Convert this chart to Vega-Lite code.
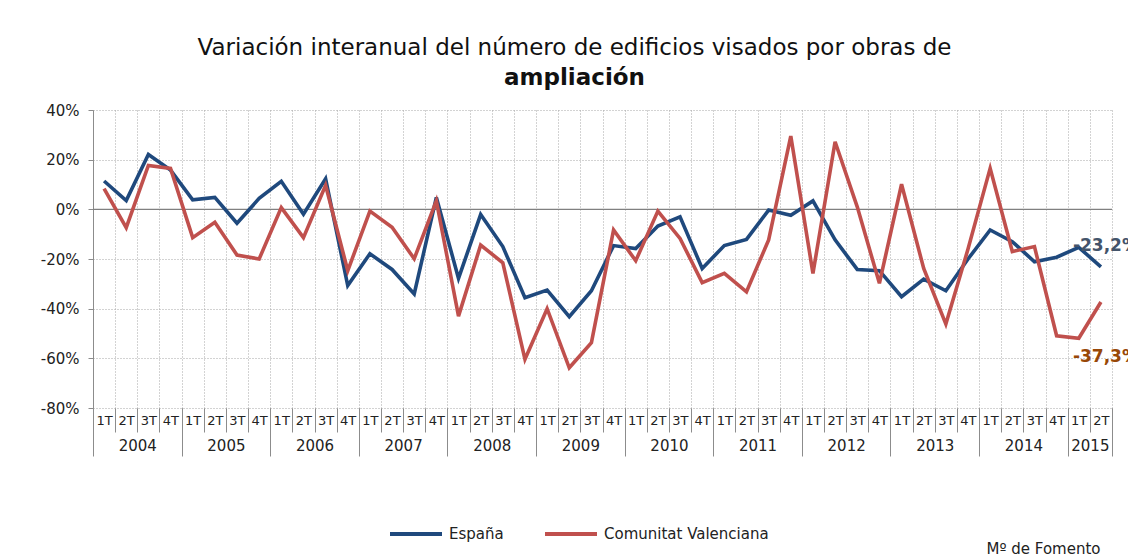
{
  "$schema": "https://vega.github.io/schema/vega-lite/v6.json",
  "autosize": {"type": "none"},
  "width": 1019,
  "height": 298,
  "padding": {"left": 93, "top": 110, "right": 16, "bottom": 150},
  "background": "white",
  "config": {
    "font": "DejaVu Sans",
    "view": {"stroke": null}
  },
  "title": {
    "text": "Variación interanual del número de edificios visados por obras de",
    "subtitle": "ampliación",
    "anchor": "middle",
    "frame": "group",
    "dx": -28,
    "offset": 13,
    "font": "DejaVu Sans",
    "fontSize": 23,
    "fontWeight": "normal",
    "color": "#111111",
    "subtitleFont": "DejaVu Sans",
    "subtitleFontSize": 23,
    "subtitleFontWeight": "bold",
    "subtitleColor": "#111111",
    "subtitlePadding": 7
  },
  "datasets": {
    "series": [
      {"t": 0, "periodo": "2004 1T", "serie": "España", "v": 11.4},
      {"t": 1, "periodo": "2004 2T", "serie": "España", "v": 3.5},
      {"t": 2, "periodo": "2004 3T", "serie": "España", "v": 22.1},
      {"t": 3, "periodo": "2004 4T", "serie": "España", "v": 15.8},
      {"t": 4, "periodo": "2005 1T", "serie": "España", "v": 3.8},
      {"t": 5, "periodo": "2005 2T", "serie": "España", "v": 4.8},
      {"t": 6, "periodo": "2005 3T", "serie": "España", "v": -5.6},
      {"t": 7, "periodo": "2005 4T", "serie": "España", "v": 4.4},
      {"t": 8, "periodo": "2006 1T", "serie": "España", "v": 11.3},
      {"t": 9, "periodo": "2006 2T", "serie": "España", "v": -2.0},
      {"t": 10, "periodo": "2006 3T", "serie": "España", "v": 12.3},
      {"t": 11, "periodo": "2006 4T", "serie": "España", "v": -30.7},
      {"t": 12, "periodo": "2007 1T", "serie": "España", "v": -17.9},
      {"t": 13, "periodo": "2007 2T", "serie": "España", "v": -24.2},
      {"t": 14, "periodo": "2007 3T", "serie": "España", "v": -34.1},
      {"t": 15, "periodo": "2007 4T", "serie": "España", "v": 4.8},
      {"t": 16, "periodo": "2008 1T", "serie": "España", "v": -27.8},
      {"t": 17, "periodo": "2008 2T", "serie": "España", "v": -2.1},
      {"t": 18, "periodo": "2008 3T", "serie": "España", "v": -15.0},
      {"t": 19, "periodo": "2008 4T", "serie": "España", "v": -35.6},
      {"t": 20, "periodo": "2009 1T", "serie": "España", "v": -32.5},
      {"t": 21, "periodo": "2009 2T", "serie": "España", "v": -43.2},
      {"t": 22, "periodo": "2009 3T", "serie": "España", "v": -32.8},
      {"t": 23, "periodo": "2009 4T", "serie": "España", "v": -14.6},
      {"t": 24, "periodo": "2010 1T", "serie": "España", "v": -15.8},
      {"t": 25, "periodo": "2010 2T", "serie": "España", "v": -6.7},
      {"t": 26, "periodo": "2010 3T", "serie": "España", "v": -3.0},
      {"t": 27, "periodo": "2010 4T", "serie": "España", "v": -23.8},
      {"t": 28, "periodo": "2011 1T", "serie": "España", "v": -14.6},
      {"t": 29, "periodo": "2011 2T", "serie": "España", "v": -12.1},
      {"t": 30, "periodo": "2011 3T", "serie": "España", "v": -0.3},
      {"t": 31, "periodo": "2011 4T", "serie": "España", "v": -2.4},
      {"t": 32, "periodo": "2012 1T", "serie": "España", "v": 3.4},
      {"t": 33, "periodo": "2012 2T", "serie": "España", "v": -12.3},
      {"t": 34, "periodo": "2012 3T", "serie": "España", "v": -24.2},
      {"t": 35, "periodo": "2012 4T", "serie": "España", "v": -24.7},
      {"t": 36, "periodo": "2013 1T", "serie": "España", "v": -35.2},
      {"t": 37, "periodo": "2013 2T", "serie": "España", "v": -28.1},
      {"t": 38, "periodo": "2013 3T", "serie": "España", "v": -32.8},
      {"t": 39, "periodo": "2013 4T", "serie": "España", "v": -20.0},
      {"t": 40, "periodo": "2014 1T", "serie": "España", "v": -8.3},
      {"t": 41, "periodo": "2014 2T", "serie": "España", "v": -13.0},
      {"t": 42, "periodo": "2014 3T", "serie": "España", "v": -21.1},
      {"t": 43, "periodo": "2014 4T", "serie": "España", "v": -19.3},
      {"t": 44, "periodo": "2015 1T", "serie": "España", "v": -15.3},
      {"t": 45, "periodo": "2015 2T", "serie": "España", "v": -23.2},
      {"t": 0, "periodo": "2004 1T", "serie": "Comunitat Valenciana", "v": 8.3},
      {"t": 1, "periodo": "2004 2T", "serie": "Comunitat Valenciana", "v": -7.4},
      {"t": 2, "periodo": "2004 3T", "serie": "Comunitat Valenciana", "v": 17.7},
      {"t": 3, "periodo": "2004 4T", "serie": "Comunitat Valenciana", "v": 16.5},
      {"t": 4, "periodo": "2005 1T", "serie": "Comunitat Valenciana", "v": -11.4},
      {"t": 5, "periodo": "2005 2T", "serie": "Comunitat Valenciana", "v": -5.2},
      {"t": 6, "periodo": "2005 3T", "serie": "Comunitat Valenciana", "v": -18.4},
      {"t": 7, "periodo": "2005 4T", "serie": "Comunitat Valenciana", "v": -20.0},
      {"t": 8, "periodo": "2006 1T", "serie": "Comunitat Valenciana", "v": 0.7},
      {"t": 9, "periodo": "2006 2T", "serie": "Comunitat Valenciana", "v": -11.4},
      {"t": 10, "periodo": "2006 3T", "serie": "Comunitat Valenciana", "v": 9.7},
      {"t": 11, "periodo": "2006 4T", "serie": "Comunitat Valenciana", "v": -24.7},
      {"t": 12, "periodo": "2007 1T", "serie": "Comunitat Valenciana", "v": -0.7},
      {"t": 13, "periodo": "2007 2T", "serie": "Comunitat Valenciana", "v": -7.2},
      {"t": 14, "periodo": "2007 3T", "serie": "Comunitat Valenciana", "v": -19.9},
      {"t": 15, "periodo": "2007 4T", "serie": "Comunitat Valenciana", "v": 3.4},
      {"t": 16, "periodo": "2008 1T", "serie": "Comunitat Valenciana", "v": -43.0},
      {"t": 17, "periodo": "2008 2T", "serie": "Comunitat Valenciana", "v": -14.4},
      {"t": 18, "periodo": "2008 3T", "serie": "Comunitat Valenciana", "v": -21.5},
      {"t": 19, "periodo": "2008 4T", "serie": "Comunitat Valenciana", "v": -60.4},
      {"t": 20, "periodo": "2009 1T", "serie": "Comunitat Valenciana", "v": -40.0},
      {"t": 21, "periodo": "2009 2T", "serie": "Comunitat Valenciana", "v": -63.8},
      {"t": 22, "periodo": "2009 3T", "serie": "Comunitat Valenciana", "v": -53.7},
      {"t": 23, "periodo": "2009 4T", "serie": "Comunitat Valenciana", "v": -8.3},
      {"t": 24, "periodo": "2010 1T", "serie": "Comunitat Valenciana", "v": -20.7},
      {"t": 25, "periodo": "2010 2T", "serie": "Comunitat Valenciana", "v": -0.7},
      {"t": 26, "periodo": "2010 3T", "serie": "Comunitat Valenciana", "v": -11.7},
      {"t": 27, "periodo": "2010 4T", "serie": "Comunitat Valenciana", "v": -29.5},
      {"t": 28, "periodo": "2011 1T", "serie": "Comunitat Valenciana", "v": -25.8},
      {"t": 29, "periodo": "2011 2T", "serie": "Comunitat Valenciana", "v": -33.2},
      {"t": 30, "periodo": "2011 3T", "serie": "Comunitat Valenciana", "v": -12.3},
      {"t": 31, "periodo": "2011 4T", "serie": "Comunitat Valenciana", "v": 29.5},
      {"t": 32, "periodo": "2012 1T", "serie": "Comunitat Valenciana", "v": -25.8},
      {"t": 33, "periodo": "2012 2T", "serie": "Comunitat Valenciana", "v": 27.2},
      {"t": 34, "periodo": "2012 3T", "serie": "Comunitat Valenciana", "v": 1.0},
      {"t": 35, "periodo": "2012 4T", "serie": "Comunitat Valenciana", "v": -29.8},
      {"t": 36, "periodo": "2013 1T", "serie": "Comunitat Valenciana", "v": 10.1},
      {"t": 37, "periodo": "2013 2T", "serie": "Comunitat Valenciana", "v": -23.8},
      {"t": 38, "periodo": "2013 3T", "serie": "Comunitat Valenciana", "v": -46.2},
      {"t": 39, "periodo": "2013 4T", "serie": "Comunitat Valenciana", "v": -16.0},
      {"t": 40, "periodo": "2014 1T", "serie": "Comunitat Valenciana", "v": 16.5},
      {"t": 41, "periodo": "2014 2T", "serie": "Comunitat Valenciana", "v": -17.0},
      {"t": 42, "periodo": "2014 3T", "serie": "Comunitat Valenciana", "v": -15.0},
      {"t": 43, "periodo": "2014 4T", "serie": "Comunitat Valenciana", "v": -50.9},
      {"t": 44, "periodo": "2015 1T", "serie": "Comunitat Valenciana", "v": -51.9},
      {"t": 45, "periodo": "2015 2T", "serie": "Comunitat Valenciana", "v": -37.3}
    ],
    "finales": [
      {"t": 45, "serie": "España", "v": -23.2, "etiqueta": "-23,2%"},
      {"t": 45, "serie": "Comunitat Valenciana", "v": -37.3, "etiqueta": "-37,3%"}
    ],
    "cero": [{"v": 0}]
  },
  "data": {"name": "series"},
  "resolve": {"axis": {"x": "independent", "y": "shared"}},
  "layer": [
    {
      "data": {"name": "cero"},
      "mark": {"type": "rule", "color": "#808080", "strokeWidth": 1.2},
      "encoding": {
        "y": {"field": "v", "type": "quantitative"}
      }
    },
    {
      "mark": {"type": "line", "strokeWidth": 3.6, "strokeJoin": "miter", "strokeCap": "butt"},
      "encoding": {
        "x": {
          "field": "t",
          "type": "quantitative",
          "scale": {"domain": [-0.5, 45.5], "nice": false, "zero": false},
          "axis": {
            "orient": "bottom",
            "values": [-0.5, 0.5, 1.5, 2.5, 3.5, 4.5, 5.5, 6.5, 7.5, 8.5, 9.5, 10.5, 11.5, 12.5, 13.5, 14.5, 15.5, 16.5, 17.5, 18.5, 19.5, 20.5, 21.5, 22.5, 23.5, 24.5, 25.5, 26.5, 27.5, 28.5, 29.5, 30.5, 31.5, 32.5, 33.5, 34.5, 35.5, 36.5, 37.5, 38.5, 39.5, 40.5, 41.5, 42.5, 43.5, 44.5, 45.5],
            "labelExpr": "datum.value > 45 ? '' : ['1T','2T','3T','4T'][(datum.value + 0.5) % 4]",
            "labelOffset": 11,
            "labelFlush": false,
            "labelOverlap": false,
            "labelBound": false,
            "labelBaseline": "middle",
            "labelPadding": -12,
            "labelFontSize": 13,
            "labelColor": "#222222",
            "labelFont": "DejaVu Sans",
            "tickSize": 24,
            "tickColor": "#8c8c8c",
            "tickWidth": 1,
            "domain": false,
            "grid": true,
            "gridColor": "#a6a6a6",
            "gridDash": [1, 2],
            "gridWidth": 1,
            "title": "Mº  de Fomento",
            "titleX": 1007,
            "titleY": 145,
            "titleAlign": "right",
            "titleBaseline": "alphabetic",
            "titleFontSize": 15,
            "titleFontWeight": "normal",
            "titleColor": "#222222",
            "titleFont": "DejaVu Sans"
          }
        },
        "y": {
          "field": "v",
          "type": "quantitative",
          "scale": {"domain": [-80, 40], "nice": false, "zero": false},
          "axis": {
            "values": [-80, -60, -40, -20, 0, 20, 40],
            "labelExpr": "datum.value + '%'",
            "labelFontSize": 15,
            "labelColor": "#222222",
            "labelPadding": 9,
            "tickSize": 5,
            "tickColor": "#8c8c8c",
            "domainColor": "#8c8c8c",
            "domainWidth": 1,
            "grid": true,
            "gridColor": "#a6a6a6",
            "gridDash": [1, 2],
            "title": null
          }
        },
        "color": {
          "field": "serie",
          "type": "nominal",
          "scale": {"domain": ["España", "Comunitat Valenciana"], "range": ["#1F497D", "#C0504D"]},
          "legend": {
            "title": null,
            "orient": "none",
            "direction": "horizontal",
            "legendX": 295,
            "legendY": 396,
            "symbolType": "stroke",
            "symbolSize": 2704,
            "symbolStrokeWidth": 4,
            "labelFontSize": 15,
            "labelLimit": 400,
            "labelColor": "#222222",
            "labelOffset": 5,
            "columnPadding": 33,
            "padding": 0
          }
        }
      }
    },
    {
      "data": {"name": "finales"},
      "transform": [{"filter": "datum.serie == 'España'"}],
      "mark": {"type": "text", "align": "left", "baseline": "middle", "dx": -28, "dy": -21, "fontSize": 17, "fontWeight": "bold", "color": "#44546A"},
      "encoding": {
        "x": {
          "field": "t",
          "type": "quantitative",
          "axis": {
            "orient": "bottom",
            "values": [-0.5, 1.5, 3.5, 5.5, 7.5, 9.5, 11.5, 13.5, 15.5, 17.5, 19.5, 21.5, 23.5, 25.5, 27.5, 29.5, 31.5, 33.5, 35.5, 37.5, 39.5, 41.5, 43.5, 44.5, 45.5],
            "labelExpr": "datum.value > 45 ? '' : (datum.value == 44.5 ? '2015' : ((datum.value + 0.5) % 4 == 2 ? '' + (2004 + (datum.value - 1.5) / 4) : ''))",
            "labelFlush": false,
            "labelOverlap": false,
            "labelBound": false,
            "labelBaseline": "middle",
            "labelPadding": -11,
            "labelFontSize": 15,
            "labelColor": "#222222",
            "tickSize": 48,
            "tickColor": "#8c8c8c",
            "tickOpacity": {"condition": {"test": "(datum.value + 0.5) % 4 == 0 || datum.value == 45.5", "value": 1}, "value": 0},
            "domain": false,
            "grid": false,
            "title": null
          }
        },
        "y": {"field": "v", "type": "quantitative"},
        "text": {"field": "etiqueta", "type": "nominal"}
      }
    },
    {
      "data": {"name": "finales"},
      "transform": [{"filter": "datum.serie == 'Comunitat Valenciana'"}],
      "mark": {"type": "text", "align": "left", "baseline": "middle", "dx": -28, "dy": 55, "fontSize": 17, "fontWeight": "bold", "color": "#984807"},
      "encoding": {
        "x": {"field": "t", "type": "quantitative", "axis": null},
        "y": {"field": "v", "type": "quantitative"},
        "text": {"field": "etiqueta", "type": "nominal"}
      }
    }
  ]
}
